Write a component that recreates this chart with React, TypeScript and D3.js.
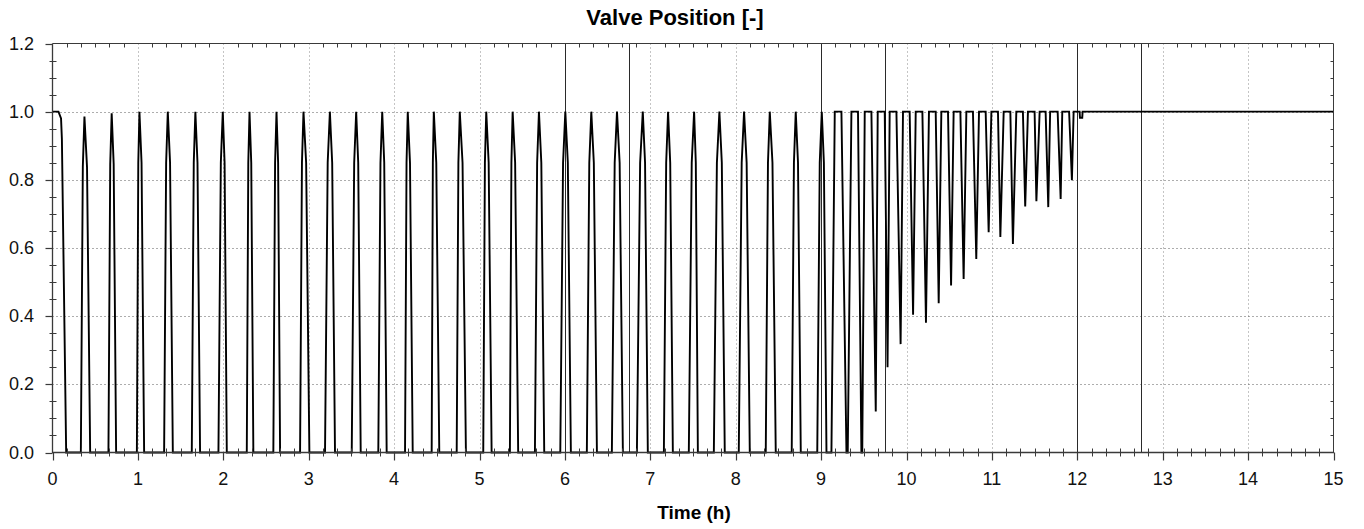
import React from "react";
import * as d3 from "d3";

// ---- data (time in hours, valve position 0..1) ----
const initialTime = [0, 0.07, 0.1, 0.11, 0.16];
const initialValue = [1, 1, 0.98, 0.92, 0];

const slowRiseStart = [0.332, 0.655, 0.988, 1.307, 1.631, 1.943, 2.275, 2.586, 2.899, 3.191, 3.504, 3.815, 4.128, 4.44, 4.733, 5.044, 5.356, 5.649, 5.946, 6.257, 6.55, 6.843, 7.159, 7.451, 7.744, 8.036, 8.352, 8.656, 8.955];
const slowPeakTime = [0.374, 0.693, 1.018, 1.35, 1.673, 1.994, 2.307, 2.623, 2.939, 3.248, 3.556, 3.861, 4.16, 4.465, 4.769, 5.079, 5.388, 5.696, 6.005, 6.309, 6.61, 6.912, 7.208, 7.513, 7.809, 8.098, 8.399, 8.703, 9.008];
const slowPeakValue = [0.986, 0.995, 1, 1, 1, 1, 1, 1, 1, 1, 1, 1, 1, 1, 1, 1, 1, 1, 1, 1, 1, 1, 1, 1, 1, 1, 1, 1, 1];
const slowFallEnd = [0.441, 0.745, 1.073, 1.409, 1.728, 2.041, 2.352, 2.665, 3.008, 3.308, 3.609, 3.913, 4.218, 4.529, 4.841, 5.142, 5.453, 5.758, 6.07, 6.375, 6.679, 6.971, 7.264, 7.557, 7.872, 8.165, 8.469, 8.762, 9.063];
// pulse shape: steep lower flanks, rounded top
const pulseShoulderValue = 0.85;
const pulseRiseShoulderFrac = 0.55;
const pulseFallShoulderFrac = 0.45;

const fastRiseStart = 9.121;
const fastFlatStart = [9.16, 9.355, 9.511, 9.663, 9.803, 9.959, 10.108, 10.263, 10.408, 10.552, 10.701, 10.849, 10.994, 11.138, 11.286, 11.422, 11.559, 11.682, 11.824];
const fastFlatEnd = [9.238, 9.432, 9.589, 9.745, 9.882, 10.037, 10.186, 10.342, 10.486, 10.631, 10.778, 10.927, 11.071, 11.216, 11.363, 11.5, 11.629, 11.77, 11.904];
const fastTroughStart = [9.297, 9.472, 9.64, 9.778, 9.931, 10.077, 10.228, 10.377, 10.522, 10.669, 10.817, 10.962, 11.099, 11.246, 11.39, 11.521, 11.66, 11.805, 11.937];
const fastTroughEnd = [9.312, 9.482, 9.64, 9.778, 9.931, 10.077, 10.228, 10.377, 10.522, 10.669, 10.817, 10.962, 11.099, 11.246, 11.39, 11.521, 11.66, 11.805, 11.937];
const fastTroughValue = [0, 0, 0.12, 0.25, 0.318, 0.404, 0.381, 0.438, 0.49, 0.509, 0.568, 0.646, 0.632, 0.612, 0.722, 0.737, 0.72, 0.744, 0.799];

const tailTime = [11.957, 12.027, 12.031, 12.058, 12.062, 15];
const tailValue = [1, 1, 0.982, 0.982, 1, 1];

const markerTimes = [6, 6.75, 9, 9.75, 12, 12.75];

const xTickValues = [0, 1, 2, 3, 4, 5, 6, 7, 8, 9, 10, 11, 12, 13, 14, 15];
const yTickValues = [0, 0.2, 0.4, 0.6, 0.8, 1.0, 1.2];

const titleText = "Valve Position [-]";
const xAxisTitle = "Time (h)";

function buildSeries(): [number, number][] {
  const pts: [number, number][] = [];
  initialTime.forEach((t, i) => pts.push([t, initialValue[i]]));
  slowRiseStart.forEach((rs, i) => {
    const pk = slowPeakTime[i];
    const fe = slowFallEnd[i];
    pts.push([rs, 0]);
    pts.push([rs + pulseRiseShoulderFrac * (pk - rs), pulseShoulderValue * slowPeakValue[i]]);
    pts.push([pk, slowPeakValue[i]]);
    pts.push([pk + pulseFallShoulderFrac * (fe - pk), pulseShoulderValue * slowPeakValue[i]]);
    pts.push([fe, 0]);
  });
  pts.push([fastRiseStart, 0]);
  fastFlatStart.forEach((fs, i) => {
    pts.push([fs, 1]);
    pts.push([fastFlatEnd[i], 1]);
    pts.push([fastTroughStart[i], fastTroughValue[i]]);
    if (fastTroughEnd[i] !== fastTroughStart[i]) pts.push([fastTroughEnd[i], fastTroughValue[i]]);
  });
  tailTime.forEach((t, i) => pts.push([t, tailValue[i]]));
  return pts;
}

const W = 1364;
const H = 529;
const L = 52.5;
const R = 1333.5;
const T = 43.5;
const B = 452.5;
const FONT = "'Liberation Sans', Arial, Helvetica, sans-serif";

export default function App() {
  const x = d3.scaleLinear().domain([0, 15]).range([L, R]);
  const y = d3.scaleLinear().domain([0, 1.2]).range([B, T]);
  const series = buildSeries();
  const line = d3
    .line<[number, number]>()
    .x((d) => x(d[0]))
    .y((d) => y(d[1]));

  const xMinor = d3.range(0, 15 * 6 + 1).map((i) => i / 6);
  const yMinor = d3.range(0, 1.2 * 20 + 1).map((i) => i / 20);
  const fmtY = d3.format(".1f");
  const axisColor = "#3a3a3a";

  return (
    <svg
      width={W}
      height={H}
      style={{ position: "absolute", left: 0, top: 0, background: "#fff" }}
      fontFamily={FONT}
    >
      <rect x={0} y={0} width={W} height={H} fill="#fff" />
      {/* grid */}
      {xTickValues.slice(1, -1).map((v) => (
        <line key={"gx" + v} x1={Math.round(x(v)) + 0.5} x2={Math.round(x(v)) + 0.5} y1={T} y2={B} stroke="#8a8a8a" strokeDasharray="1,3" />
      ))}
      {yTickValues.slice(1, -1).map((v) => (
        <line key={"gy" + v} x1={L} x2={R} y1={Math.round(y(v)) + 0.5} y2={Math.round(y(v)) + 0.5} stroke="#5a5a5a" strokeDasharray="1,3" />
      ))}
      {/* event markers */}
      {markerTimes.map((t) => (
        <line key={"m" + t} x1={Math.round(x(t)) + 0.5} x2={Math.round(x(t)) + 0.5} y1={T} y2={B} stroke="#2a2a2a" strokeWidth={1} />
      ))}
      {/* series */}
      <path d={line(series) || ""} fill="none" stroke="#000" strokeWidth={1.9} strokeLinejoin="miter" strokeMiterlimit={2} />
      {/* frame */}
      <line x1={L} x2={R} y1={T} y2={T} stroke={axisColor} />
      <line x1={R} x2={R} y1={T} y2={B} stroke={axisColor} />
      <line x1={L} x2={L} y1={T} y2={B + 0.5} stroke={axisColor} strokeWidth={1.3} />
      <line x1={L - 0.5} x2={R + 0.5} y1={B} y2={B} stroke={axisColor} strokeWidth={1.3} />
      {/* x ticks (bottom and top) */}
      {xMinor.map((v, i) => {
        const px = Math.round(x(v)) + 0.5;
        const major = i % 6 === 0;
        return (
          <g key={"xt" + i}>
            {major ? (
              <line x1={px} x2={px} y1={B} y2={B + 8} stroke={axisColor} strokeWidth={1.2} />
            ) : (
              <line x1={px} x2={px} y1={B - 4} y2={B + 4} stroke={axisColor} />
            )}
            {!major && <line x1={px} x2={px} y1={T} y2={T + 4} stroke={axisColor} />}
          </g>
        );
      })}
      {/* y ticks (left and right) */}
      {yMinor.map((v, i) => {
        const py = Math.round(y(v)) + 0.5;
        const major = i % 4 === 0;
        return (
          <g key={"yt" + i}>
            {major ? (
              <line x1={L - 7} x2={L} y1={py} y2={py} stroke={axisColor} strokeWidth={1.2} />
            ) : (
              <line x1={L - 3} x2={L + 4} y1={py} y2={py} stroke={axisColor} />
            )}
            {!major && <line x1={R - 3} x2={R} y1={py} y2={py} stroke={axisColor} />}
          </g>
        );
      })}
      {/* tick labels */}
      {xTickValues.map((v) => (
        <text key={"xl" + v} x={x(v)} y={485} textAnchor="middle" fontSize={18} fill="#111">
          {String(v)}
        </text>
      ))}
      {yTickValues.map((v) => (
        <text key={"yl" + v} x={34} y={y(v) + 6} textAnchor="end" fontSize={18} fill="#111">
          {fmtY(v)}
        </text>
      ))}
      {/* titles */}
      <text x={675} y={25} textAnchor="middle" fontSize={22} fontWeight="bold" fill="#000">
        {titleText}
      </text>
      <text x={694} y={519} textAnchor="middle" fontSize={19} fontWeight="bold" fill="#000">
        {xAxisTitle}
      </text>
    </svg>
  );
}
